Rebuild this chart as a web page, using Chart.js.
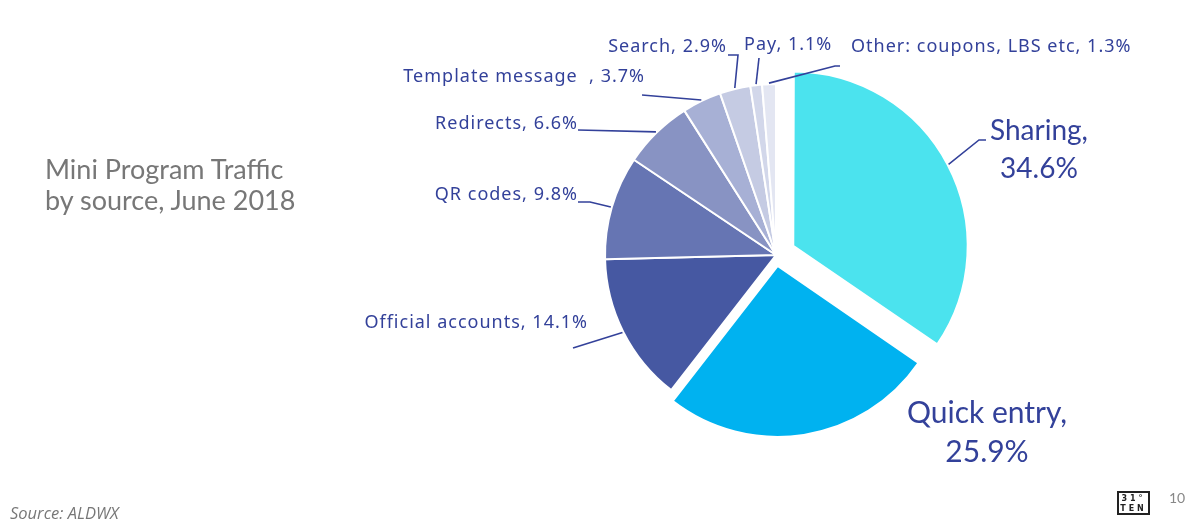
<!DOCTYPE html>
<html>
<head>
<meta charset="utf-8">
<script src="https://cdn.jsdelivr.net/npm/chart.js@4"></script>
<style>
  html, body { margin: 0; padding: 0; background: #fff; }
  #wrap { position: relative; width: 1189px; height: 527px; overflow: hidden; font-family: Lato, "Noto Sans", sans-serif; }
  #chart { position: absolute; left: 0; top: 0; }
  .title { position: absolute; left: 45px; top: 153px; color: #777; font-size: 27px; line-height: 31px; }
  .source { position: absolute; left: 10px; top: 501px; color: #777; font-size: 16.5px; font-style: italic; font-family: "Open Sans", sans-serif; }
  .logo { position: absolute; left: 1117px; top: 491px; width: 33px; height: 24px; border: 2px solid #222;
          font: bold 8px/10px "DejaVu Sans", sans-serif; color: #222; text-align: center; letter-spacing: 3px; padding-top: 1px; box-sizing: border-box; }
  .page { position: absolute; left: 1169px; top: 489px; color: #888; font-size: 14px; }
</style>
</head>
<body>
<div id="wrap">
  <canvas id="chart" width="1189" height="527"></canvas>
  <div class="title">Mini Program Traffic<br>by source, June 2018</div>
  <div class="source">Source: ALDWX</div>
  <div class="logo">31°<br>TEN</div>
  <div class="page">10</div>
</div>
<script>
// Mini Program traffic shares, clockwise from 12 o'clock
var categories = ["Sharing", "Quick entry", "Official accounts", "QR codes", "Redirects",
                  "Template message  ", "Search", "Pay", "Other: coupons, LBS etc"];
var shares = [34.6, 25.9, 14.1, 9.8, 6.6, 3.7, 2.9, 1.1, 1.3];

var COLORS = ["#4be3ee", "#00b2f0", "#4658a2", "#6675b3", "#8893c3",
              "#a7b0d5", "#c5cbe3", "#d2d7ea", "#e3e6f2"];
var OFFSETS = [78, 44, 0, 0, 0, 0, 0, 0, 0];
var TEXT = "#33419a";
var BIG_FONT = "Lato, 'Noto Sans', sans-serif";
var SMALL_FONT = "'Noto Sans', Lato, sans-serif";

// label placement: text anchor + leader path (the arc point is appended at draw time)
var LABELS = [
  { x: 1039, y: 131, align: "center", size: 28, gap: 38, split: true, path: [[986, 140], [979, 140]] },
  { x: 987, y: 413, align: "center", size: 30, gap: 39, split: true, path: null },
  { x: 588, y: 323, align: "right", size: 18, path: [[573, 348]] },
  { x: 578, y: 195, align: "right", size: 18, path: [[578, 202], [590, 202]] },
  { x: 578, y: 124, align: "right", size: 18, path: [[578, 130]] },
  { x: 645, y: 77, align: "right", size: 18, path: [[642, 95]] },
  { x: 727, y: 47, align: "right", size: 18, path: [[728, 55], [738, 55]] },
  { x: 744, y: 45, align: "left", size: 18, path: [[759, 58]] },
  { x: 851, y: 47, align: "left", size: 18, path: [[840, 66], [835, 66]] }
];

var leaderLabels = {
  id: "leaderLabels",
  afterDatasetsDraw: function (chart) {
    var ctx = chart.ctx;
    var meta = chart.getDatasetMeta(0);
    ctx.save();
    meta.data.forEach(function (arc, i) {
      var cfg = LABELS[i];
      var p = arc.getProps(["x", "y", "startAngle", "endAngle", "outerRadius", "circumference"], true);
      var mid = (p.startAngle + p.endAngle) / 2;
      // same shift ArcElement applies for an exploded slice
      var off = (arc.options.offset || 0) / 4;
      var fix = 1 - Math.sin(Math.min(Math.PI, p.circumference));
      var r = off * (1 + fix) + p.outerRadius + 1;
      var ax = p.x + Math.cos(mid) * r, ay = p.y + Math.sin(mid) * r;

      if (cfg.path) {
        ctx.strokeStyle = TEXT;
        ctx.lineWidth = 1.6;
        ctx.beginPath();
        ctx.moveTo(cfg.path[0][0], cfg.path[0][1]);
        for (var k = 1; k < cfg.path.length; k++) ctx.lineTo(cfg.path[k][0], cfg.path[k][1]);
        ctx.lineTo(ax, ay);
        ctx.stroke();
      }

      var val = shares[i].toFixed(1) + "%";
      ctx.fillStyle = TEXT;
      ctx.textAlign = cfg.align;
      ctx.textBaseline = "middle";
      if (cfg.split) {
        ctx.font = cfg.size + "px " + BIG_FONT;
        ctx.letterSpacing = "0px";
        ctx.fillText(categories[i] + ",", cfg.x, cfg.y);
        ctx.fillText(val, cfg.x, cfg.y + cfg.gap);
      } else {
        ctx.font = cfg.size + "px " + SMALL_FONT;
        ctx.letterSpacing = "1px";
        ctx.fillText(categories[i] + ", " + val, cfg.x, cfg.y);
      }
    });
    ctx.restore();
  }
};

new Chart(document.getElementById("chart"), {
  type: "pie",
  data: {
    labels: categories,
    datasets: [{
      data: shares,
      backgroundColor: COLORS,
      borderColor: "#ffffff",
      borderWidth: 2,
      offset: OFFSETS
    }]
  },
  options: {
    responsive: false,
    animation: false,
    radius: 171,
    layout: { padding: { left: 482, right: 119, top: 40, bottom: 57 } },
    plugins: { legend: { display: false }, tooltip: { enabled: false } }
  },
  plugins: [leaderLabels]
});
</script>
</body>
</html>
